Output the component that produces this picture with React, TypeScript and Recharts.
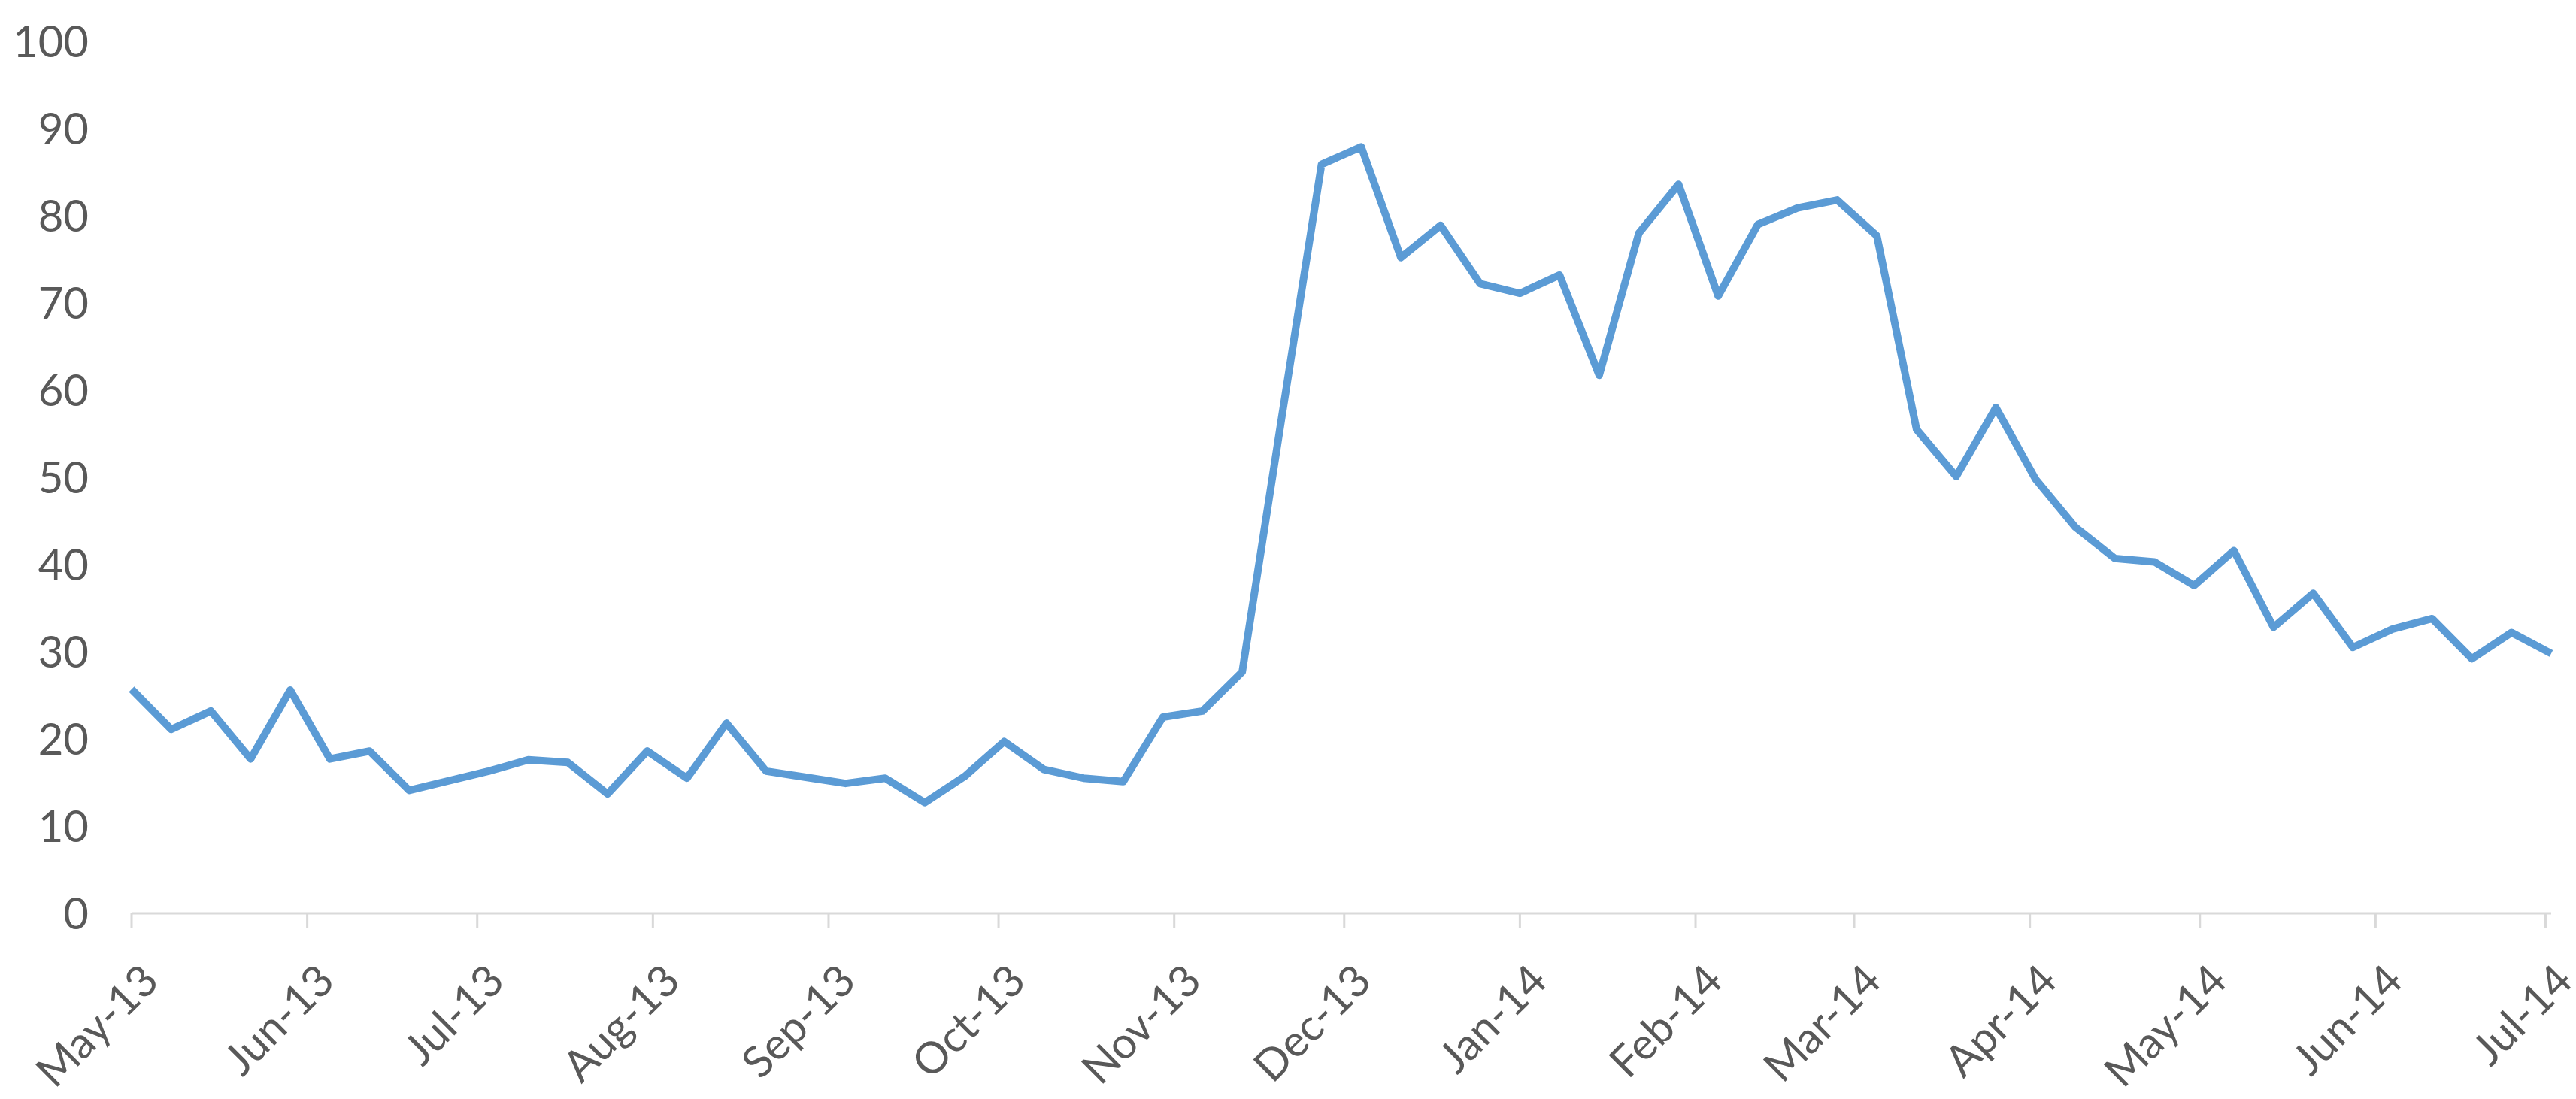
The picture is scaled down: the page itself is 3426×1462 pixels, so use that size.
import React from "react";
import { LineChart, Line, XAxis, YAxis } from "recharts";

const DAY = 86400000;
const START = Date.UTC(2013, 4, 1);

// weekly readings, starting 1 May 2013
const values = [
  25.7, 21.1, 23.2, 17.7, 25.6, 17.7, 18.6, 14.1, 15.2, 16.3, 17.6, 17.3, 13.7,
  18.6, 15.5, 21.8, 16.3, 15.6, 14.9, 15.5, 12.7, 15.7, 19.7, 16.5, 15.5, 15.1,
  22.5, 23.2, 27.7, 57, 85.9, 87.9, 75.2, 78.9, 72.2, 71.1, 73.2, 61.7, 78.0,
  83.6, 70.8, 79.0, 80.9, 81.8, 77.7, 55.5, 50.1, 58.0, 49.8, 44.3, 40.7, 40.3,
  37.6, 41.6, 32.8, 36.7, 30.5, 32.6, 33.8, 29.2, 32.2, 29.8,
];

const monthLabels = [
  "May-13", "Jun-13", "Jul-13", "Aug-13", "Sep-13", "Oct-13", "Nov-13",
  "Dec-13", "Jan-14", "Feb-14", "Mar-14", "Apr-14", "May-14", "Jun-14", "Jul-14",
];

const yTicks = [0, 10, 20, 30, 40, 50, 60, 70, 80, 90, 100];

const data = values.map((v, i) => ({ t: START + i * 7 * DAY, value: v }));
const monthTicks = monthLabels.map((_, k) => Date.UTC(2013, 4 + k, 1));
const labelFor = (t: number) => monthLabels[monthTicks.indexOf(t)] ?? "";

const font = "Lato, 'Noto Sans', sans-serif";
const textColor = "#595959";
const axisColor = "#d9d9d9";

export default function App() {
  return (
    <div style={{ position: "absolute", left: 0, top: 0, background: "#fff" }}>
      <LineChart
        width={3426}
        height={1462}
        data={data}
        margin={{ top: 55, right: 33, bottom: 0, left: 0 }}
      >
        <XAxis
          dataKey="t"
          type="number"
          scale="time"
          domain={[START, data[data.length - 1].t]}
          ticks={monthTicks}
          tickFormatter={labelFor}
          interval={0}
          height={247}
          stroke={axisColor}
          strokeWidth={3}
          tickSize={20}
          tickMargin={44}
          tickLine={{ stroke: axisColor, strokeWidth: 3 }}
          angle={-45}
          textAnchor="end"
          dx={10}
          tick={{ fill: textColor, fontSize: 58, fontFamily: font }}
        />
        <YAxis
          domain={[0, 100]}
          ticks={yTicks}
          interval={0}
          width={175}
          axisLine={false}
          tickLine={false}
          tickSize={0}
          tickMargin={57}
          tick={{ fill: textColor, fontSize: 58, fontFamily: font }}
        />
        <Line
          type="linear"
          dataKey="value"
          stroke="#5b9bd5"
          strokeWidth={10}
          strokeLinejoin="round"
          dot={false}
          activeDot={false}
          isAnimationActive={false}
        />
      </LineChart>
    </div>
  );
}
